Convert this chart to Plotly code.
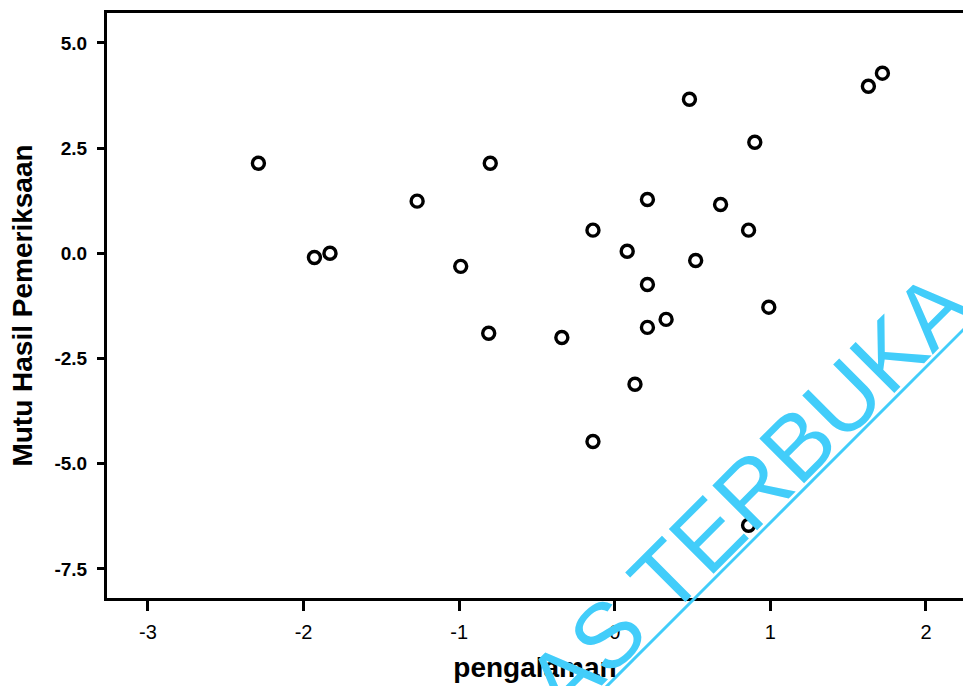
import plotly.graph_objects as go

# pengalaman (standardised experience) vs Mutu Hasil Pemeriksaan (audit quality)
pengalaman = [-2.29, -1.93, -1.83, -1.27, -0.99, -0.80, -0.81, -0.34, -0.14, -0.14,
              0.08, 0.13, 0.21, 0.21, 0.21, 0.33, 0.48, 0.52, 0.68, 0.86,
              0.90, 0.99, 0.86, 1.63, 1.72]
mutu = [2.14, -0.10, 0.00, 1.24, -0.31, 2.14, -1.90, -2.00, 0.55, -4.47,
        0.05, -3.11, 1.28, -0.74, -1.76, -1.57, 3.66, -0.17, 1.16, 0.55,
        2.64, -1.28, -6.46, 3.97, 4.28]

x_ticks = [-3, -2, -1, 0, 1, 2]
y_ticks = [5.0, 2.5, 0.0, -2.5, -5.0, -7.5]
y_tick_text = ["5.0", "2.5", "0.0", "-2.5", "-5.0", "-7.5"]

W, H = 963, 686
L, R, T, B = 107, 0, 13, 88
pw, ph = W - L - R, H - T - B
FONT = "Liberation Sans, Arial, sans-serif"


def px_to_paper(px, py):
    return (px - L) / pw, (H - B - py) / ph


fig = go.Figure(go.Scatter(
    x=pengalaman, y=mutu, mode="markers",
    marker=dict(symbol="circle-open", size=12, color="black",
                line=dict(width=3.4, color="black")),
    hoverinfo="x+y",
))

fig.update_xaxes(
    range=[-3.263, 2.238], tickvals=x_ticks, ticktext=[str(v) for v in x_ticks],
    showgrid=False, zeroline=False, showline=True, linecolor="black", linewidth=3,
    mirror=True, ticks="outside", ticklen=10, tickwidth=2.5, tickcolor="black",
    tickfont=dict(family=FONT, size=20, color="black"), ticklabelstandoff=4,
    title=dict(text="<b>pengalaman</b>", standoff=16,
               font=dict(family=FONT, size=28, color="black")),
)
fig.update_yaxes(
    range=[-8.19, 5.71], tickvals=y_ticks, ticktext=y_tick_text,
    showgrid=False, zeroline=False, showline=True, linecolor="black", linewidth=3,
    mirror=False, ticks="outside", ticklen=7, tickwidth=2.5, tickcolor="black",
    tickfont=dict(family=FONT, size=19, color="black", weight="bold"),
    ticklabelstandoff=6,
    title=dict(text="<b>Mutu Hasil Pemeriksaan</b>", standoff=14,
               font=dict(family=FONT, size=28, color="black")),
)

# diagonal stamp text with its underline
cx, cy = px_to_paper(748, 494)
fig.add_annotation(
    text="AS TERBUKA", x=cx, y=cy, xref="paper", yref="paper",
    xanchor="center", yanchor="middle", textangle=-45, showarrow=False,
    font=dict(family=FONT, size=92, color="#42CDFA"),
)
x0, y0 = px_to_paper(560, 733)
x1, y1 = px_to_paper(1000, 293)
fig.add_shape(type="line", xref="paper", yref="paper", x0=x0, y0=y0, x1=x1, y1=y1,
              line=dict(color="#42CDFA", width=3), layer="above")

fig.update_layout(
    width=W, height=H, margin=dict(l=L, r=R, t=T, b=B),
    paper_bgcolor="white", plot_bgcolor="white", showlegend=False,
)

fig.write_html("out.html")
